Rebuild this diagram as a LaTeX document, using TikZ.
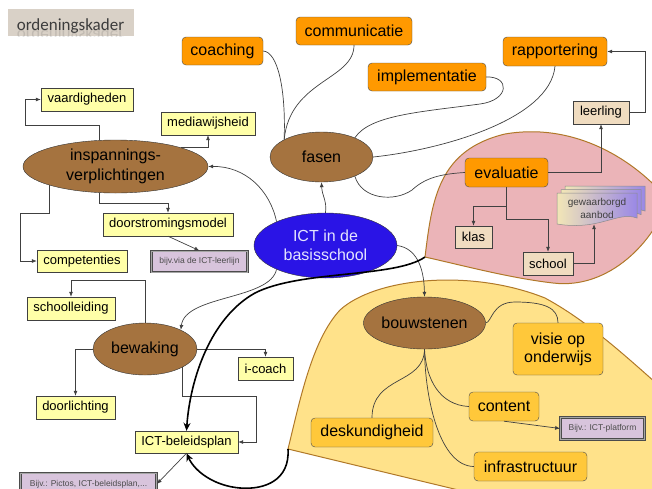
\documentclass[tikz,border=0pt]{standalone}
\usepackage{fontspec}
\setmainfont{Liberation Sans}
\newfontfamily\kaderfont{Carlito}
\usetikzlibrary{shapes.geometric,arrows.meta}
\definecolor{ictorange}{HTML}{FF9900}
\definecolor{ictgold}{HTML}{FFC83A}
\definecolor{ictyellow}{HTML}{FFE28A}
\definecolor{ictpink}{HTML}{EBB4B8}
\definecolor{ictedge}{HTML}{B07828}
\definecolor{ictpale}{HTML}{FFFFA8}
\definecolor{ictbeige}{HTML}{F0DCC0}
\definecolor{ictlilac}{HTML}{D8C4DC}
\definecolor{ictbrown}{HTML}{A5733F}
\definecolor{ictblue}{HTML}{2A14E6}
\definecolor{ictbluetext}{HTML}{E4E4FF}
\definecolor{kaderfill}{HTML}{D9D1C7}
\definecolor{kadertext}{HTML}{3C3C3C}
\definecolor{docleft}{HTML}{F2E6B6}
\definecolor{docright}{HTML}{9A88E6}

\begin{document}
\begin{tikzpicture}[x=1pt,y=-1pt,
  topicnode/.style={ellipse,draw=black!80,fill=ictbrown,font=\fontsize{16}{18}\selectfont,align=center,inner sep=0pt},
  orangebox/.style={rectangle,rounded corners=4pt,draw=black!70,fill=ictorange,font=\fontsize{16}{18}\selectfont,minimum height=28pt,inner sep=0pt,align=center},
  goldbox/.style={orangebox,fill=ictgold,minimum height=29pt},
  leafbox/.style={rectangle,draw=black!75,fill=ictpale,font=\fontsize{13}{15}\selectfont,minimum height=23pt,inner sep=0pt},
  beigebox/.style={leafbox,fill=ictbeige},
  notebox/.style={rectangle,draw=black!70,line width=0.7pt,double=black!35,double distance=1pt,fill=ictlilac,text=black!70,font=\fontsize{8.5}{10}\selectfont,minimum height=21pt,inner sep=0pt},
  docsheet/.style={draw=black!45,line width=0.5pt,left color=docleft,right color=docright},
  link/.style={draw=black!75,line width=0.7pt},
  arrowline/.style={link,-{Latex[length=5pt,width=4pt]}},
  boundary/.style={line width=1.6pt,black,-{Stealth[length=8pt,width=7pt]}}
]
\useasboundingbox (0,0) rectangle (652,488);
\clip (0,0) rectangle (652,488);

% Regions
\draw[draw=ictedge,fill=ictpink,line width=1pt] (425,257) .. controls (432,200) and (438,150) .. (505,134) .. controls (575,122) and (635,160) .. (668,200) .. controls (655,240) and (610,290) .. (553,283) .. controls (510,278) and (465,266) .. (425,257) -- cycle;
\draw[draw=ictedge,fill=ictyellow,line width=1pt] (288,449) .. controls (300,400) and (312,340) .. (340,310) .. controls (375,278) and (470,268) .. (545,298) .. controls (595,325) and (640,370) .. (670,395) -- (670,500) -- (500,500) -- cycle;
\coordinate (pinkcorner) at (425,257);
\coordinate (yellowcorner) at (288,449);

% Title
\node[fill=kaderfill,minimum width=126pt,minimum height=27pt,inner sep=0pt] (kader) at (70.5,22.5) {};
\node[anchor=base,text=kadertext,font=\kaderfont\fontsize{17}{19}\selectfont,inner sep=0pt] (kadertitle) at (70.5,30) {ordeningskader};
\begin{scope}
\clip ([yshift=6pt]kader.south west) rectangle (kader.south east);
\node[anchor=base,text=kadertext,opacity=0.15,font=\kaderfont\fontsize{17}{19}\selectfont,inner sep=0pt] (kadermirror) at (70.5,30) {\scalebox{1}[-1]{ordeningskader}};
\end{scope}

% Centre and topics
\node[topicnode,fill=ictblue,text=ictbluetext,minimum width=143pt,minimum height=65pt,font=\fontsize{16}{19}\selectfont] (ict) at (325.5,245.5) {ICT in de\\basisschool};
\node[topicnode,minimum width=185pt,minimum height=53pt,font=\fontsize{16}{20}\selectfont] (insp) at (115.5,166.5) {inspannings-\\verplichtingen};
\node[topicnode,minimum width=103pt,minimum height=50pt] (fasen) at (321.5,157) {fasen};
\node[topicnode,minimum width=104pt,minimum height=52pt] (bewaking) at (145,349) {bewaking};
\node[topicnode,minimum width=103pt,minimum height=52pt] (bouwstenen) at (424.5,323) {bouwstenen};

% Fasen
\node[orangebox,minimum width=81pt] (coaching) at (222.5,51) {coaching};
\node[orangebox,minimum width=116pt] (communicatie) at (354,31) {communicatie};
\node[orangebox,minimum width=118pt] (implementatie) at (427,77) {implementatie};
\node[orangebox,minimum width=104pt,minimum height=29pt] (rapportering) at (555,51.5) {rapportering};
\node[orangebox,minimum width=83pt,minimum height=29pt] (evaluatie) at (506.5,172.5) {evaluatie};
\node[beigebox,minimum width=56pt] (leerling) at (601,112.5) {leerling};
\node[beigebox,minimum width=37pt,minimum height=22pt] (klas) at (473.5,237) {klas};
\node[beigebox,minimum width=50pt] (school) at (548,263.5) {school};

% Gewaarborgd aanbod
\path[docsheet,shift={(8,-7)}] (557,193) -- (637,193) -- (637,218) .. controls (617,211) and (600,231) .. (557,224) -- cycle;
\path[docsheet,shift={(4,-3.5)}] (557,193) -- (637,193) -- (637,218) .. controls (617,211) and (600,231) .. (557,224) -- cycle;
\path[docsheet] (557,193) -- (637,193) -- (637,218) .. controls (617,211) and (600,231) .. (557,224) -- cycle;
\node[text=black!75,font=\fontsize{10}{12.5}\selectfont,align=center,minimum width=80pt,minimum height=31pt,inner sep=0pt] (aanbod) at (597,208.5) {gewaarborgd\\aanbod};

% Inspanningsverplichtingen
\node[leafbox,minimum width=92pt] (vaardigheden) at (87,99.5) {vaardigheden};
\node[leafbox,minimum width=94pt] (mediawijsheid) at (208,123.5) {mediawijsheid};
\node[leafbox,minimum width=130pt] (doorstroming) at (168,224.5) {doorstromingsmodel};
\node[notebox,minimum width=96pt] (leerlijn) at (199.5,261.5) {bijv.via de ICT-leerlijn};
\node[leafbox,minimum width=90pt,minimum height=22pt] (competenties) at (82,261) {competenties};

% Bewaking
\node[leafbox,minimum width=88pt] (schoolleiding) at (71,308.5) {schoolleiding};
\node[leafbox,minimum width=55pt] (icoach) at (265.5,368.5) {i-coach};
\node[leafbox,minimum width=79pt] (doorlichting) at (75.5,407.5) {doorlichting};
\node[leafbox,minimum width=103pt,minimum height=22pt] (beleidsplan) at (186.5,442) {ICT-beleidsplan};
\node[notebox,minimum width=136pt,minimum height=22pt] (pictos) at (88.5,484) {Bijv.: Pictos, ICT-beleidsplan,...};

% Bouwstenen
\node[goldbox,minimum width=90pt,minimum height=52pt,font=\fontsize{16}{18}\selectfont] (visie) at (558,349) {visie op\\onderwijs};
\node[goldbox,minimum width=70pt] (content) at (504,406.5) {content};
\node[notebox,minimum width=84pt,minimum height=22pt] (platform) at (602.5,428.5) {Bijv.: ICT-platform};
\node[goldbox,minimum width=122pt] (deskundigheid) at (372,432.5) {deskundigheid};
\node[goldbox,minimum width=113pt] (infrastructuur) at (530.5,466.5) {infrastructuur};

% From the centre
\draw[arrowline] (ict.154) .. controls (270,190) and (245,166) .. (insp.east);
\draw[arrowline] (ict.north) .. controls (327,200) and (322,196) .. (fasen.south);
\draw[arrowline] (ict.206) .. controls (270,300) and (185,295) .. (bewaking.28);
\draw[arrowline] (ict.east) .. controls (415,248) and (424,265) .. (bouwstenen.north);

% Fasen links
\draw[link] (coaching.east) .. controls (278,52) and (286,90) .. (fasen.155);
\draw[link] (communicatie.south) .. controls (354,80) and (290,80) .. (fasen.155);
\draw[link] (implementatie.east) .. controls (510,76) and (510,100) .. (480,104) .. controls (420,112) and (370,115) .. (fasen.30);
\draw[link] (rapportering.south) .. controls (550,120) and (440,150) .. (fasen.east);
\draw[link] (fasen.-30) .. controls (362,200) and (395,202) .. (412,190) .. controls (425,178) and (440,174) .. (evaluatie.west);
\draw[arrowline] (leerling.east) -- ++(16,0) |- (rapportering.east);
\draw[arrowline] (evaluatie.east) -| (leerling.south);
\draw[arrowline] (evaluatie.south) -- ++(0,19) -| (klas.north);
\draw[arrowline] (evaluatie.south) -- ++(0,32) -| (school.north);
\draw[arrowline] (school.east) -| ([xshift=-3pt]aanbod.south);

% Inspanningsverplichtingen links
\draw[arrowline] ([xshift=-16pt]insp.north) -- ++(0,-14) -| ([xshift=-15pt]vaardigheden.west) -- (vaardigheden.west);
\draw[arrowline] (insp.16) -| (mediawijsheid.south);
\draw[arrowline] ([xshift=-16pt]insp.south) -- ++(0,10) -| (doorstroming.north);
\draw[arrowline] (insp.196) -- ++(0,27.7) -| ([xshift=-16pt]competenties.west) -- (competenties.west);
\draw[arrowline] (doorstroming.south) -- (leerlijn.north);

% Bewaking links
\draw[arrowline] (bewaking.north) -- ++(0,-42) -| (schoolleiding.north);
\draw[arrowline] (bewaking.east) -| (icoach.north);
\draw[arrowline] (bewaking.west) -| (doorlichting.north);
\draw[arrowline] (bewaking.-26) -- ++(0,29) -| ([xshift=18pt]beleidsplan.east) -- (beleidsplan.east);
\draw[arrowline] (beleidsplan.south) -- (pictos.east);

% Bouwstenen links
\draw[link] (bouwstenen.east) .. controls (492,322) and (492,302) .. (515,302) .. controls (545,302) and (558,308) .. (visie.north);
\draw[link] (bouwstenen.south) .. controls (424,385) and (372,375) .. (deskundigheid.north);
\draw[link] (bouwstenen.south) .. controls (426,380) and (440,405) .. (content.west);
\draw[link] (bouwstenen.south) .. controls (425,400) and (440,466) .. (infrastructuur.west);
\draw[arrowline] (content.south) -- (platform.west);

% Thick links to the plan
\draw[boundary] (pinkcorner) .. controls (395,278) and (300,270) .. (255,293) .. controls (210,318) and (190,380) .. (beleidsplan.north);
\draw[boundary] (yellowcorner) .. controls (290,480) and (265,490) .. (240,488) .. controls (215,486) and (195,472) .. (beleidsplan.south);
\end{tikzpicture}
\end{document}
